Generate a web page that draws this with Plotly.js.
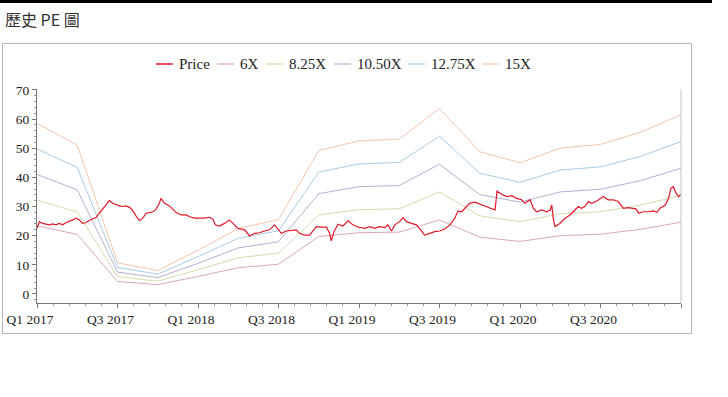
<!DOCTYPE html>
<html><head><meta charset="utf-8">
<script src="https://cdn.plot.ly/plotly-3.0.1.min.js"></script>
<style>html,body{margin:0;padding:0;background:#fff;}#chart{width:728px;height:397px;}</style>
</head><body><div id="chart"></div>
<script>
// Quarter index (0 = Q1 2017 ... 16 = Q1 2021)
const quarterPos = [0,1,2,3,4,5,6,7,8,9,10,11,12,13,14,15,16];
const band6x    = [23.4,20.4,4.3,3.2,6.0,9.0,10.2,19.7,21.0,21.2,25.4,19.5,18.0,20.0,20.5,22.2,24.6];
const band825x  = [32.2,28.1,5.9,4.4,8.3,12.4,14.0,27.1,28.9,29.2,35.0,26.8,24.8,27.5,28.2,30.5,33.8];
const band1050x = [41.0,35.7,7.5,5.6,10.5,15.8,17.9,34.4,36.8,37.2,44.5,34.1,31.5,35.0,35.9,38.9,43.1];
const band1275x = [49.7,43.4,9.1,6.8,12.8,19.1,21.7,41.8,44.6,45.1,54.1,41.4,38.3,42.5,43.6,47.2,52.3];
const band15x   = [58.5,51.0,10.7,8.0,15.0,22.5,25.5,49.2,52.5,53.1,63.6,48.8,45.0,50.0,51.3,55.5,61.5];

const priceQ = [0.00,0.06,0.14,0.22,0.31,0.39,0.47,0.55,0.64,0.72,0.80,0.89,0.97,1.05,1.13,1.22,1.30,1.38,1.47,1.55,1.63,1.72,1.80,1.88,1.97,2.05,2.13,2.21,2.30,2.38,2.46,2.54,2.63,2.71,2.79,2.88,2.96,3.04,3.08,3.17,3.25,3.33,3.46,3.58,3.71,3.79,3.91,4.16,4.29,4.37,4.43,4.53,4.66,4.78,4.87,4.99,5.16,5.28,5.41,5.53,5.65,5.78,5.90,5.99,6.07,6.19,6.32,6.44,6.52,6.65,6.77,6.86,6.94,7.06,7.19,7.27,7.31,7.38,7.48,7.60,7.73,7.85,7.98,8.05,8.14,8.27,8.39,8.51,8.64,8.72,8.81,8.89,9.01,9.09,9.18,9.30,9.43,9.55,9.63,9.76,9.88,10.01,10.13,10.26,10.38,10.46,10.55,10.63,10.75,10.88,11.00,11.13,11.25,11.38,11.43,11.54,11.67,11.79,11.92,12.04,12.12,12.20,12.25,12.33,12.41,12.54,12.66,12.75,12.79,12.83,12.87,12.99,13.12,13.24,13.37,13.45,13.53,13.61,13.70,13.78,13.91,13.99,14.07,14.19,14.32,14.44,14.57,14.69,14.88,14.95,15.07,15.19,15.32,15.40,15.48,15.61,15.69,15.75,15.81,15.88,15.94,16.00];
const priceV = [22.5,24.8,24.2,23.9,23.7,24.0,23.7,24.2,23.7,24.5,24.8,25.4,26.0,25.4,24.2,24.5,25.2,25.6,26.3,27.7,29.1,30.5,32.0,31.1,30.5,30.2,30.0,30.2,29.7,28.6,26.8,25.2,26.0,27.7,27.9,28.2,29.1,31.1,32.8,31.1,30.5,29.7,27.9,27.1,27.1,26.5,26.0,26.0,26.3,25.6,23.7,23.3,24.2,25.4,24.2,22.5,22.0,19.9,20.8,21.0,21.6,22.0,23.7,22.0,20.8,21.6,21.7,22.0,20.8,20.2,20.2,21.7,23.1,22.9,22.9,20.8,18.2,21.4,23.9,23.3,25.1,23.7,22.9,22.8,22.5,23.1,22.5,23.1,22.8,23.7,21.6,23.7,24.8,26.2,24.8,24.2,23.7,21.6,20.2,20.8,21.4,21.6,22.3,23.7,26.0,28.5,28.2,29.4,31.1,31.5,30.8,30.3,29.4,28.8,35.3,34.2,33.4,33.7,32.8,32.3,31.1,31.7,32.3,29.4,28.2,28.8,28.2,28.8,30.5,25.4,23.1,24.2,26.0,27.1,28.8,30.0,29.4,30.0,31.7,31.1,31.9,32.8,33.4,32.3,32.3,31.7,29.4,29.6,29.2,27.7,28.2,28.2,28.5,28.0,29.4,30.5,32.8,36.3,36.8,34.5,33.4,34.2];

const tickPos = [0,2,4,6,8,10,12,14,16];
const tickText = ['Q1 2017','Q3 2017','Q1 2018','Q3 2018','Q1 2019','Q3 2019','Q1 2020','Q3 2020',''];
const yTicks = [0,10,20,30,40,50,60,70];
const seriesNames = ['Price','6X','8.25X','10.50X','12.75X','15X'];
const seriesColors = ['rgb(228,24,40)','rgb(218,168,186)','rgb(214,218,172)','rgb(178,176,210)','rgb(166,204,230)','rgb(246,198,172)'];

// plot area in pixels
const L=37, R=681, T=89, B=303;
const W=R-L, H=B-T;
const pxX = x => (x-L)/W;
const pxY = y => (B-y)/H;

const bands = [band6x, band825x, band1050x, band1275x, band15x];
const traces = bands.map((b,i)=>({
  x: quarterPos, y: b, type:'scatter', mode:'lines', name: seriesNames[i+1],
  line:{color: seriesColors[i+1], width:1}, hoverinfo:'skip'
}));
traces.push({x: priceQ, y: priceV, type:'scatter', mode:'lines', name:'Price',
  line:{color: seriesColors[0], width:1.2}});

// manual legend layout
const legendItems = [
  {line:[156,173], text:177},
  {line:[217,234], text:238},
  {line:[266,283], text:287},
  {line:[334,351], text:355},
  {line:[408,425], text:429},
  {line:[482,499], text:503}
];
const legY = 64;
const shapes = [
  {type:'rect', xref:'paper', yref:'paper', x0:pxX(0), x1:pxX(712), y0:pxY(3), y1:pxY(0), fillcolor:'#000', line:{width:0}},
  {type:'rect', xref:'paper', yref:'paper', x0:pxX(2.5), x1:pxX(691.5), y0:pxY(333.5), y1:pxY(43.5), line:{color:'#b4b4b4', width:1}, fillcolor:'rgba(0,0,0,0)'},
  {type:'line', xref:'paper', yref:'paper', x0:1, x1:1, y0:0, y1:1, line:{color:'#c4c4c4', width:1}}
];
const annotations = [];
legendItems.forEach((it,i)=>{
  shapes.push({type:'line', xref:'paper', yref:'paper', x0:pxX(it.line[0]), x1:pxX(it.line[1]), y0:pxY(legY), y1:pxY(legY), line:{color:seriesColors[i], width: i===0?1.5:1.2}});
  annotations.push({xref:'paper', yref:'paper', x:pxX(it.text), y:pxY(legY), xanchor:'left', yanchor:'middle', showarrow:false, text:seriesNames[i],
    font:{family:'Liberation Serif, Times New Roman, serif', size:15, color:'#222'}});
});

const axisFont = {family:'Liberation Serif, Times New Roman, serif', size:13.5, color:'#222'};
const layout = {
  width:728, height:397,
  margin:{l:L, r:728-R, t:T, b:397-B, pad:0},
  paper_bgcolor:'#fff', plot_bgcolor:'#fff',
  showlegend:false,
  title:{text:'歷史 PE 圖', xref:'container', yref:'container', x:5/728, xanchor:'left', y:1-20/397, yanchor:'middle',
    font:{family:'Noto Sans CJK TC, Noto Sans, sans-serif', size:16, color:'#333'}},
  xaxis:{range:[0,16], tickmode:'array', tickvals:tickPos, ticktext:tickText, ticks:'outside', ticklen:4, tickcolor:'#777',
    showline:true, linecolor:'#777', linewidth:1, showgrid:false, zeroline:false, tickfont:axisFont, ticklabelshift:-7,
    minor:{tickmode:'linear', tick0:0, dtick:0.4, ticks:'outside', ticklen:2, tickcolor:'#999', showgrid:false}},
  yaxis:{range:[-3.1,70.3], tickmode:'array', tickvals:yTicks, ticks:'outside', ticklen:4, tickcolor:'#777',
    showline:true, linecolor:'#777', linewidth:1, showgrid:false, zeroline:false, tickfont:axisFont,
    minor:{tickmode:'linear', tick0:0, dtick:2, ticks:'outside', ticklen:2, tickcolor:'#999', showgrid:false}},
  shapes: shapes,
  annotations: annotations
};
Plotly.newPlot('chart', traces, layout, {staticPlot:true, displayModeBar:false});
</script>
</body></html>
